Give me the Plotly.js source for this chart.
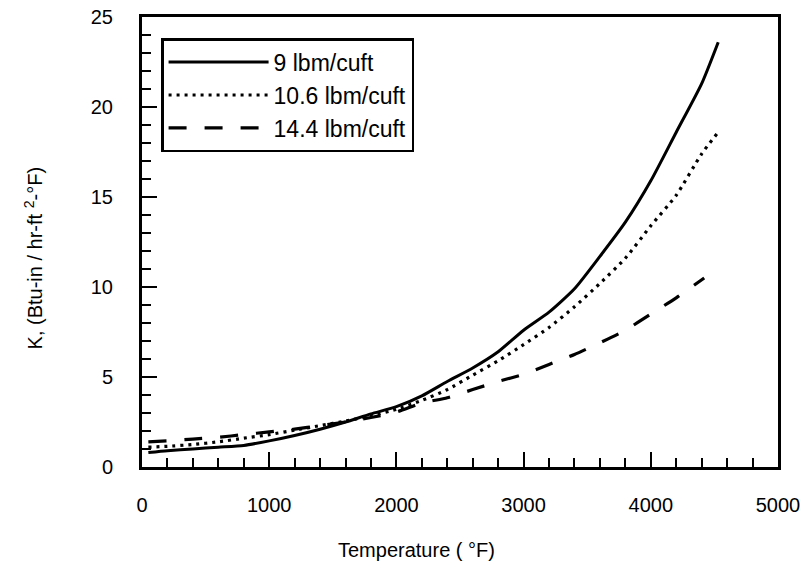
<!DOCTYPE html>
<html>
<head>
<meta charset="utf-8">
<script src="https://cdn.plot.ly/plotly-3.0.1.min.js"></script>
<style>html,body{margin:0;padding:0;background:#fff;}#chart{width:810px;height:570px;}</style>
</head>
<body>
<div id="chart"></div>
<script>
// Temperature (°F) and conductivity K for each density
var temp9 = [50, 200, 400, 600, 800, 1000, 1200, 1400, 1600, 1800, 2000, 2200, 2400, 2600, 2800, 3000, 3200, 3400, 3600, 3800, 4000, 4200, 4400, 4530];
var k9 = [0.8, 0.9, 1.0, 1.1, 1.2, 1.45, 1.75, 2.1, 2.5, 2.95, 3.35, 3.95, 4.75, 5.5, 6.4, 7.6, 8.6, 9.9, 11.7, 13.6, 15.9, 18.6, 21.3, 23.6];

var temp106 = [50, 200, 400, 600, 800, 1000, 1200, 1400, 1600, 1800, 2000, 2200, 2400, 2600, 2800, 3000, 3200, 3400, 3600, 3800, 4000, 4200, 4400, 4530];
var k106 = [1.1, 1.15, 1.25, 1.4, 1.6, 1.8, 2.05, 2.3, 2.55, 2.85, 3.2, 3.7, 4.3, 5.1, 5.9, 6.8, 7.75, 8.9, 10.2, 11.6, 13.4, 15.1, 17.4, 18.6];

var temp144 = [50, 200, 400, 600, 800, 1000, 1200, 1400, 1600, 1800, 2000, 2200, 2400, 2600, 2800, 3000, 3200, 3400, 3600, 3800, 4000, 4200, 4420];
var k144 = [1.4, 1.45, 1.55, 1.65, 1.8, 1.95, 2.1, 2.3, 2.5, 2.75, 3.05, 3.55, 3.85, 4.3, 4.75, 5.15, 5.7, 6.25, 6.9, 7.6, 8.5, 9.4, 10.5];

var seriesNames = ["9 lbm/cuft", "10.6 lbm/cuft", "14.4 lbm/cuft"];
var xTickVals = [0, 1000, 2000, 3000, 4000, 5000];
var yTickVals = [0, 5, 10, 15, 20, 25];
var xMinorStep = 200;
var yMinorVals = [1, 2, 3, 4, 6, 7, 8, 9, 11, 12, 13, 14, 16, 17, 18, 19, 21, 22, 23, 24];
var xTitle = "Temperature ( °F)";
var yTitle = "K, (Btu-in / hr-ft <sup>2</sup>-°F)";

var FONT = "Liberation Sans, Arial, sans-serif";

var traces = [
  {x: temp9, y: k9, name: seriesNames[0], mode: "lines", line: {color: "#000", width: 3, shape: "spline", smoothing: 0.6}},
  {x: temp106, y: k106, name: seriesNames[1], mode: "lines", line: {color: "#000", width: 3.2, dash: "3px,5px", shape: "spline", smoothing: 0.6}},
  {x: temp144, y: k144, name: seriesNames[2], mode: "lines", line: {color: "#000", width: 3.2, dash: "18px,18px", shape: "spline", smoothing: 0.6}}
];

var xaxis = {
  range: [xTickVals[0], xTickVals[xTickVals.length - 1]], dtick: xTickVals[1] - xTickVals[0],
  ticks: "inside", ticklen: 15, tickwidth: 2, tickcolor: "#000",
  showline: true, mirror: true, linewidth: 3, linecolor: "#000",
  showgrid: false, ticklabelstandoff: 18,
  minor: {dtick: xMinorStep, ticks: "inside", ticklen: 9, tickwidth: 2, tickcolor: "#000"}
};
var yaxis = {
  range: [yTickVals[0], yTickVals[yTickVals.length - 1]], dtick: yTickVals[1] - yTickVals[0],
  ticks: "inside", ticklen: 15, tickwidth: 2, tickcolor: "#000",
  showline: true, mirror: true, linewidth: 3, linecolor: "#000",
  showgrid: false, ticklabelstandoff: 22
};

// short inside tick marks between the labelled K values, placed on the y scale
var yMinorShapes = yMinorVals.map(function (v) {
  return {type: "line", xref: "paper", yref: "y", x0: 0, x1: 9 / 636, y0: v, y1: v, line: {color: "#000", width: 2}};
});

var layout = {
  width: 810, height: 570,
  paper_bgcolor: "#fff", plot_bgcolor: "#fff",
  font: {family: FONT, size: 20, color: "#000"},
  margin: {l: 142, r: 32, t: 17, b: 103},
  showlegend: true,
  legend: {
    x: 0.03, y: 0.953, xanchor: "left", yanchor: "top",
    bgcolor: "#fff", bordercolor: "#000", borderwidth: 2.5,
    font: {family: FONT, size: 23, color: "#000"},
    itemwidth: 100
  },
  xaxis: xaxis,
  yaxis: yaxis,
  shapes: yMinorShapes,
  annotations: [
    {text: xTitle, xref: "paper", yref: "paper", x: 0.432, y: -0.184, xanchor: "center", yanchor: "middle", showarrow: false, font: {family: FONT, size: 20, color: "#000"}},
    {text: yTitle, xref: "paper", yref: "paper", x: -0.171, y: 0.464, xanchor: "center", yanchor: "middle", textangle: -90, showarrow: false, font: {family: FONT, size: 20, color: "#000"}}
  ]
};

Plotly.newPlot("chart", traces, layout, {staticPlot: true, displayModeBar: false});
</script>
</body>
</html>
